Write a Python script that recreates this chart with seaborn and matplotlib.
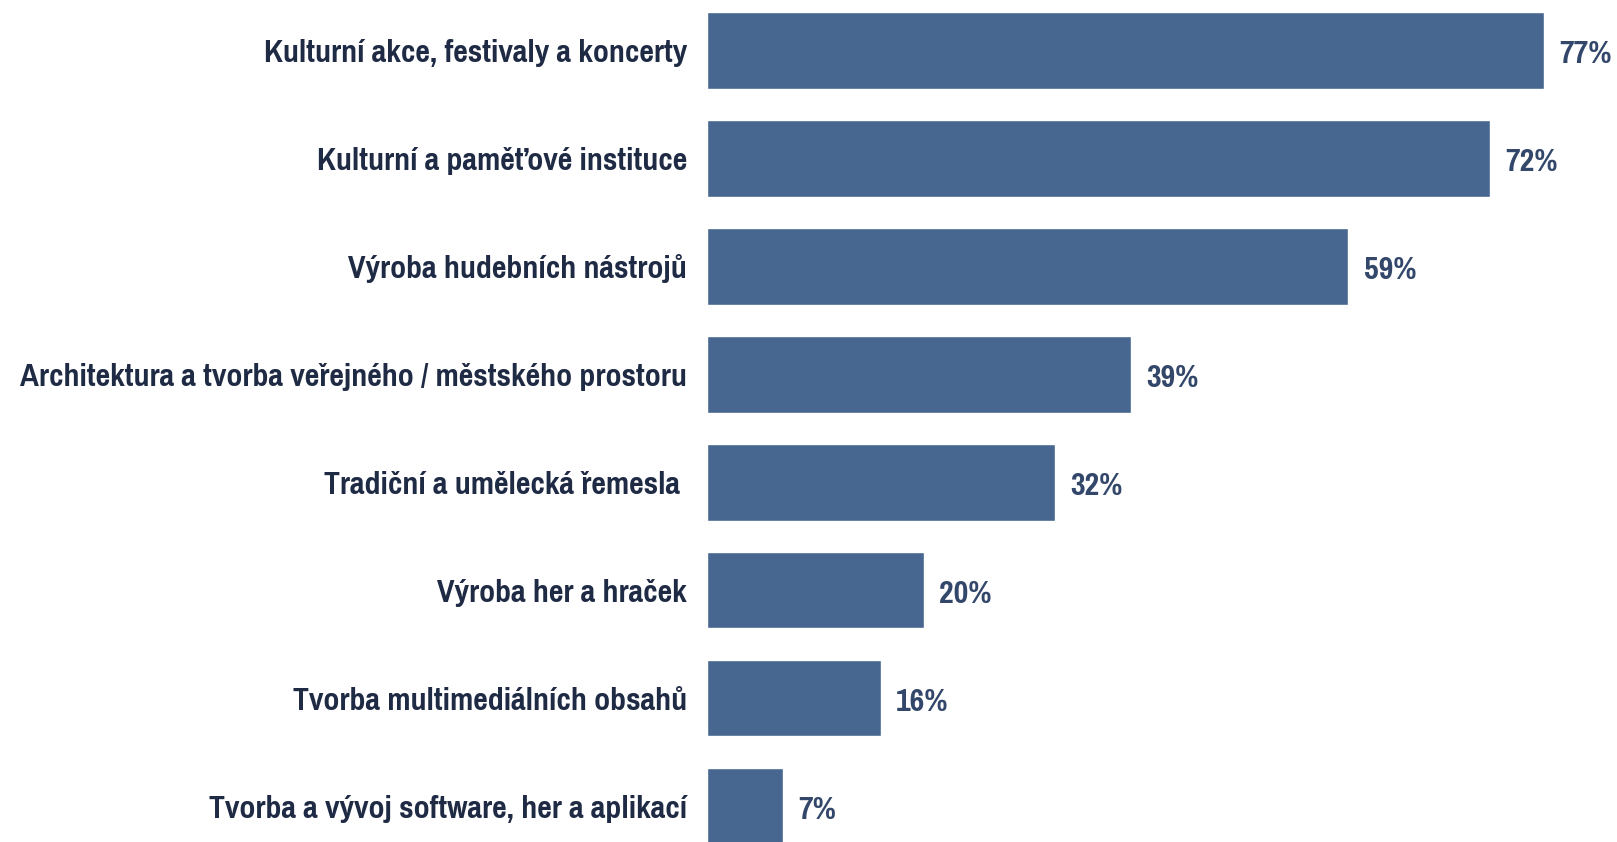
import matplotlib
matplotlib.use("Agg")
import matplotlib.pyplot as plt
import seaborn as sns
import pandas as pd

categories = [
    "Kulturní akce, festivaly a koncerty",
    "Kulturní a paměťové instituce",
    "Výroba hudebních nástrojů",
    "Architektura a tvorba veřejného / městského prostoru",
    "Tradiční a umělecká řemesla ",
    "Výroba her a hraček",
    "Tvorba multimediálních obsahů",
    "Tvorba a vývoj software, her a aplikací",
]
values = [77, 72, 59, 39, 32, 20, 16, 7]

df = pd.DataFrame({"cat": categories, "val": values})

sns.set_theme(style="white")
plt.rcParams["font.family"] = ["Pragati Narrow", "Roboto Condensed", "DejaVu Sans"]

BAR = "#476791"
LABEL = "#1f2b44"
VALUE = "#33476a"

fig = plt.figure(figsize=(16.17, 8.42), dpi=100)
ax = fig.add_axes([0.437, 0.0, 0.563, 1.0])

sns.barplot(data=df, x="val", y="cat", color=BAR, saturation=1, width=0.705, ax=ax)

ax.set_xlim(0, 83.7)
ax.set_ylim(7.33, -0.468)
ax.set_xlabel("")
ax.set_ylabel("")
ax.set_xticks([])
for s in ax.spines.values():
    s.set_visible(False)
ax.tick_params(axis="y", length=0, pad=14)
for lab in ax.get_yticklabels():
    lab.set_fontsize(25)
    lab.set_fontweight("bold")
    lab.set_color(LABEL)

# percentage labels just right of each bar end
for i, v in enumerate(values):
    ax.text(v + 1.4, i + 0.03, f"{v}%", va="center", ha="left",
            fontsize=25, fontweight="bold", color=VALUE)

fig.savefig("out.png", dpi=100)
